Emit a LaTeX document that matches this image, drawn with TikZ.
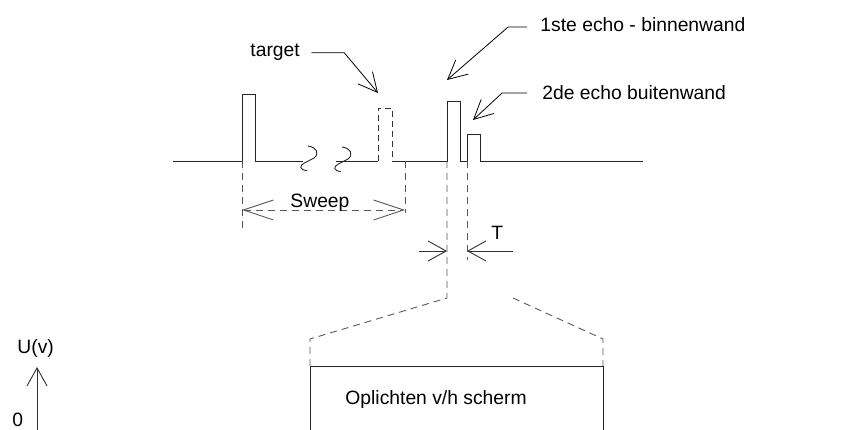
\documentclass[tikz,border=0pt]{standalone}
\usepackage{fontspec}
\setmainfont{Liberation Sans}
\usetikzlibrary{arrows.meta}
\begin{document}
\begin{tikzpicture}[x=1pt, y=-1pt, line width=0.9pt,
  wave/.style={draw=black!85},
  guide/.style={draw=black!65, dash pattern=on 7pt off 5pt},
  pulsedash/.style={draw=black!80, dash pattern=on 6pt off 4pt},
  lbl/.style={font=\fontsize{19.3}{23}\selectfont, inner sep=0pt, anchor=base west},
  barb/.style={draw=black!80, -{Straight Barb[length=18pt,width=20pt]}},
  sweeparrow/.style={{Straight Barb[length=30pt,width=20pt]}-{Straight Barb[length=30pt,width=20pt]}},
  leader/.style={draw=black, line width=0.8pt, -{Straight Barb[length=19pt,width=19pt]}},
  breakmark/.pic={\draw[wave] (0,0) .. controls (7,1) and (10,6) .. (5,10)
        .. controls (0,13) and (-7,15) .. (-6,18) .. controls (-5.5,19.5) and (-3.5,20.5) .. (-1,20.5);}
]
\useasboundingbox (0,0) rectangle (844,430);

% ---- trace on the screen: transmitted pulse, target and the two wall echoes
\draw[wave] (173,161) -- (242,161) -- (242,94) -- (255,94) -- (255,161) -- (303,161);
\pic[scale=1.2] at (308,146) {breakmark};
\pic[scale=1.2] at (342,147) {breakmark};
\draw[wave] (336,161) -- (378,161);
\draw[pulsedash] (378,161) -- (378,108) -- (392,108) -- (392,161);
\draw[wave] (392,161) -- (447,161) -- (447,101) -- (460,101) -- (460,161)
            -- (467,161) -- (467,134) -- (480,134) -- (480,161) -- (643,161);

% ---- reference points
\coordinate (pulseA) at (242,161);
\coordinate (sweepEnd) at (405,161);
\coordinate (echo1) at (447,161);
\coordinate (echo2) at (467,161);
\coordinate (tgtTip) at (378,93);
\coordinate (echo1Tip) at (447,80);
\coordinate (echo2Tip) at (473,120);

% ---- dashed guide lines
\draw[guide] (pulseA) -- (242,232);
\draw[guide] (sweepEnd) -- (405,213);
\draw[guide] (echo1) -- (447,298) -- (310,339) -- (310,366);
\draw[guide] (echo2) -- (467,260);
\draw[guide] (513,298) -- (603,339) -- (603,366);

% ---- sweep span
\draw[guide, sweeparrow] (242,210) -- (405,210);
\node[lbl] (sweep) at (290,208) {Sweep};

% ---- echo spacing T
\draw[barb] (419,251) -- (447,251);
\draw[barb] (513,251) -- (467,251);
\node[lbl] (tlabel) at (491,240) {T};

% ---- lit screen area
\draw[wave] (310,430) -- (310,366) -- (603,366) -- (603,430);
\node[lbl] (screen) at (345,405) {Oplichten v/h scherm};

% ---- voltage axis
\draw[barb] (37,430) -- (37,367);
\node[lbl] (uv) at (17,354) {U(v)};
\node[lbl] (zero) at (12,427) {0};

% ---- labels with leaders
\node[lbl] (target) at (250,57) {target};
\draw[leader] ([xshift=11pt]target.east) -- ++(33,0) -- (tgtTip);

\node[lbl] (e1) at (540,32) {1ste echo - binnenwand};
\draw[leader] ([xshift=-13pt,yshift=-2pt]e1.west) -- ++(-19,0) -- (echo1Tip);

\node[lbl] (e2) at (542,100) {2de echo buitenwand};
\draw[leader] ([xshift=-15pt]e2.west) -- ++(-25,0) -- (echo2Tip);
\end{tikzpicture}
\end{document}
